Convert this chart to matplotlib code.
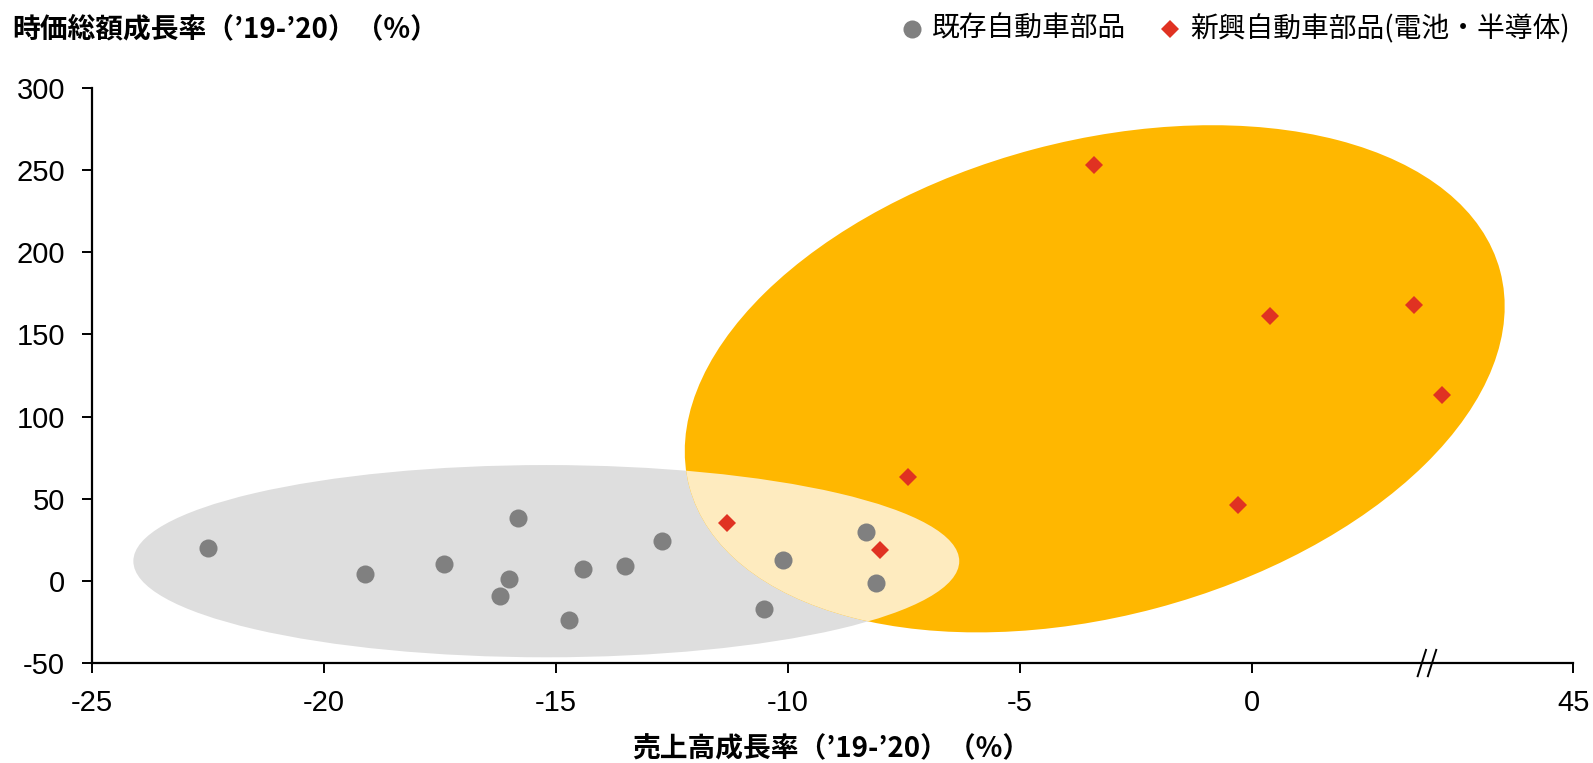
import matplotlib
matplotlib.use("Agg")
import matplotlib.pyplot as plt
from matplotlib.patches import Ellipse
from matplotlib.lines import Line2D
from matplotlib.transforms import ScaledTranslation

# --- data -------------------------------------------------------------
existing_x = [-22.5, -19.1, -17.4, -15.8, -16.0, -16.2, -14.4, -14.7, -13.5, -12.7, -10.5, -10.1, -8.3, -8.1]
existing_y = [20, 4, 10, 38, 1, -9, 7, -24, 9, 24, -17, 13, 30, -1]

emerging_x = [-3.4, 0.4, 3.5, 4.1, -7.4, -0.3, -11.3, -8.0]
emerging_y = [253, 161, 168, 113, 63, 46, 35, 19]

x_ticks = [-25, -20, -15, -10, -5, 0, 6.93]
x_tick_labels = ["-25", "-20", "-15", "-10", "-5", "0", "45"]
y_ticks = [-50, 0, 50, 100, 150, 200, 250, 300]
x_break = 3.78

legend_labels = ["既存自動車部品", "新興自動車部品(電池・半導体)"]
title_text = "時価総額成長率（’19-’20）（%）"
xlabel_text = "売上高成長率（’19-’20）（%）"

# --- style -------------------------------------------------------------
GREY_MARK = "#808080"
RED_MARK = "#E03222"
GREY_FILL = "#DEDEDE"
ORANGE_FILL = "#FFB700"
CREAM_FILL = "#FEEBBF"
JP = ["Noto Sans CJK JP", "DejaVu Sans"]
NUM = "Liberation Sans"

plt.rcParams["axes.unicode_minus"] = False

fig = plt.figure(figsize=(15.93, 7.63), dpi=100)
ax = fig.add_axes([0.0575, 0.131, 0.930, 0.7537])
ax.set_xlim(-25, 6.93)
ax.set_ylim(-50, 300)

# cluster shading
grey_ell = Ellipse((-15.2, 12), 17.8, 117, facecolor=GREY_FILL, edgecolor="none", zorder=1)
ax.add_patch(grey_ell)

orange_tr = fig.dpi_scale_trans + ScaledTranslation(-3.38, 123, ax.transData)
orange_ell = Ellipse((0, 0), 8.39, 4.75, angle=14.9, facecolor=ORANGE_FILL,
                     edgecolor="none", transform=orange_tr, zorder=2)
ax.add_patch(orange_ell)

overlap = Ellipse((-15.2, 12), 17.8, 117, facecolor=CREAM_FILL, edgecolor="none", zorder=3)
ax.add_patch(overlap)
overlap.set_clip_path(orange_ell)

# points
ax.plot(existing_x, existing_y, linestyle="none", marker="o", markersize=13,
        color=GREY_MARK, markeredgewidth=0, zorder=5)
ax.plot(emerging_x, emerging_y, linestyle="none", marker="D", markersize=9.6,
        color=RED_MARK, markeredgewidth=0, zorder=5)

# axes styling
for side in ("top", "right"):
    ax.spines[side].set_visible(False)
for side in ("left", "bottom"):
    ax.spines[side].set_linewidth(1.6)
    ax.spines[side].set_color("black")

ax.set_xticks(x_ticks)
ax.set_xticklabels(x_tick_labels)
ax.set_yticks(y_ticks)
ax.set_yticklabels([str(v) for v in y_ticks])
ax.tick_params(axis="both", direction="out", length=7, width=1.4, labelsize=21, pad=12)
for lab in ax.get_xticklabels() + ax.get_yticklabels():
    lab.set_fontfamily(NUM)

# axis break marks
for off in (-0.11, 0.11):
    ax.plot([x_break + off - 0.09, x_break + off + 0.09], [-58, -42], color="black",
            linewidth=1.4, clip_on=False, zorder=6)

# titles
fig.text(0.008, 0.962, title_text, fontsize=20, fontweight="bold", family=JP,
         ha="left", va="center")
fig.text(0.522, 0.018, xlabel_text, fontsize=20, fontweight="bold", family=JP,
         ha="center", va="center")

# legend drawn by hand
leg_y = 0.962
fig.add_artist(Line2D([0.5725], [leg_y], marker="o", markersize=13, color=GREY_MARK,
                      markeredgewidth=0, linestyle="none", transform=fig.transFigure))
fig.text(0.585, leg_y, legend_labels[0], fontsize=20, family=JP, ha="left", va="center")
fig.add_artist(Line2D([0.7345], [leg_y], marker="D", markersize=9.6, color=RED_MARK,
                      markeredgewidth=0, linestyle="none", transform=fig.transFigure))
fig.text(0.747, leg_y, legend_labels[1], fontsize=20, family=JP, ha="left", va="center")

fig.savefig("out.png", dpi=100)
